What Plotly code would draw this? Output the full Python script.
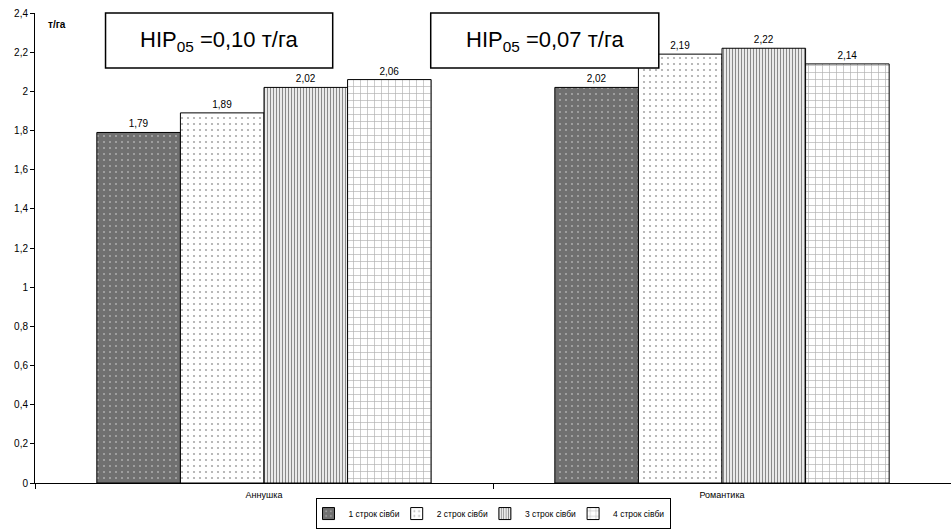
import plotly.graph_objects as go

categories = ["Аннушка", "Романтика"]
series_names = ["1 строк сівби", "2 строк сівби", "3 строк сівби", "4 строк сівби"]
values = [
    [1.79, 2.02],
    [1.89, 2.19],
    [2.02, 2.22],
    [2.06, 2.14],
]
y_ticks = [0, 0.2, 0.4, 0.6, 0.8, 1.0, 1.2, 1.4, 1.6, 1.8, 2.0, 2.2, 2.4]
y_tick_labels = ["0", "0,2", "0,4", "0,6", "0,8", "1", "1,2", "1,4", "1,6", "1,8", "2", "2,2", "2,4"]
hip_labels = ["HIP<sub>05</sub> =0,10 т/га", "HIP<sub>05</sub> =0,07 т/га"]

styles = [
    dict(shape=".", fgcolor="#d8d8d8", bgcolor="#707070", size=6, solidity=0.06),
    dict(shape=".", fgcolor="#a8a8a8", bgcolor="#ffffff", size=6, solidity=0.1),
    dict(shape="|", fgcolor="#8a8a8a", bgcolor="#ffffff", size=3, solidity=0.45),
    dict(shape="+", fgcolor="#b0b0b0", bgcolor="#ffffff", size=7, solidity=0.18),
]

fig = go.Figure()
for name, vals, st in zip(series_names, values, styles):
    fig.add_trace(go.Bar(
        name=name, x=categories, y=vals,
        text=[f"{v:.2f}".replace(".", ",") for v in vals],
        textposition="outside", cliponaxis=False,
        textfont=dict(size=10, color="#000000", family="Liberation Sans, Arial"),
        marker=dict(color=st["bgcolor"], line=dict(color="#000000", width=1),
                    pattern=dict(shape=st["shape"], fgcolor=st["fgcolor"], bgcolor=st["bgcolor"],
                                 size=st["size"], solidity=st["solidity"], fillmode="replace")),
    ))

fig.update_layout(
    width=951, height=530,
    margin=dict(l=35, r=0, t=13, b=47, autoexpand=False),
    paper_bgcolor="white", plot_bgcolor="white",
    barmode="group", bargap=0.27, bargroupgap=0,
    font=dict(family="Liberation Sans, Arial", size=10, color="#000000"),
    showlegend=True,
    legend=dict(orientation="h", x=0.5, xanchor="center", y=-0.098, yanchor="bottom",
                bordercolor="#000000", borderwidth=1, font=dict(size=8.5),
                itemwidth=30, tracegroupgap=0, indentation=-8),
    xaxis=dict(showline=True, linecolor="#000000", linewidth=1, ticks="outside",
               tickson="boundaries", ticklen=5, tickcolor="#000000",
               tickfont=dict(size=9), showgrid=False, ticklabelstandoff=3),
    yaxis=dict(range=[0, 2.4], tickvals=y_ticks, ticktext=y_tick_labels,
               showline=True, linecolor="#000000", linewidth=1, ticks="outside",
               ticklen=4, tickcolor="#000000", tickfont=dict(size=10), showgrid=False,
               zeroline=False),
)

fig.add_annotation(text="<b>т/га</b>", xref="paper", yref="paper", x=0.012, y=0.975,
                   xanchor="left", yanchor="middle", showarrow=False, font=dict(size=10))

box_pos = [(0.077, 0.325), (0.432, 0.681)]
for lab, (x0, x1) in zip(hip_labels, box_pos):
    fig.add_shape(type="rect", xref="paper", yref="paper", x0=x0, x1=x1, y0=0.883, y1=1.0,
                  line=dict(color="#000000", width=1.5), fillcolor="white", layer="above")
    fig.add_annotation(text=lab, xref="paper", yref="paper", x=(x0 + x1) / 2, y=0.941,
                       xanchor="center", yanchor="middle", showarrow=False,
                       font=dict(size=22))

fig.write_html("out.html")
